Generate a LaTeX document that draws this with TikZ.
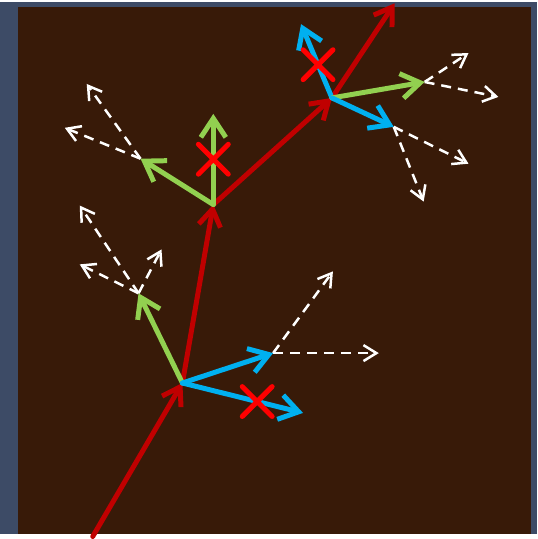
\documentclass[tikz,border=0pt]{standalone}
\usepackage{xcolor}
\usepackage{tikz}
\usetikzlibrary{arrows.meta, shapes.misc}
\definecolor{frameblue}{RGB}{61, 75, 102}
\definecolor{soilbrown}{RGB}{56, 26, 8}
\definecolor{trunkred}{RGB}{192, 0, 0}
\definecolor{leafgreen}{RGB}{146, 208, 80}
\definecolor{skyblue}{RGB}{0, 176, 240}
\definecolor{cutred}{RGB}{255, 0, 0}

\begin{document}
\begin{tikzpicture}[x=1pt, y=-1pt,
        trunk/.style={trunkred, line width=5pt, line cap=round, line join=round, -{Straight Barb[length=17pt, width=22pt]}},
        shoot/.style={line width=5pt, line cap=round, line join=round, -{Straight Barb[length=19pt, width=25pt]}},
        probe/.style={white, line width=2.5pt, dash pattern=on 10pt off 7pt, line join=round, -{Straight Barb[length=13pt, width=16pt]}},
        cut/.style={cross out, draw=cutred, line width=5pt, minimum size=25pt, inner sep=0pt}]

        % Background
        \fill[frameblue] (0, 0) rectangle (539, 533);
        \fill[soilbrown] (18, 5) rectangle (533, 533);

        % Forks of the trunk
        \coordinate (root) at (93, 536);
        \coordinate (a) at (183, 382);
        \coordinate (b) at (214, 203);
        \coordinate (c) at (333, 96);
        \coordinate (top) at (396, 1);

        % Shoots
        \coordinate (a1) at (139, 292);
        \coordinate (a2) at (274, 352);
        \coordinate (a3) at (304, 412);
        \coordinate (b1) at (214, 112);
        \coordinate (b2) at (141, 157);
        \coordinate (c1) at (302, 22);
        \coordinate (c2) at (426, 80);
        \coordinate (c3) at (395, 125);

        % Probes
        \coordinate (a1x) at (80, 204);
        \coordinate (a1y) at (80, 263);
        \coordinate (a1z) at (162, 248);
        \coordinate (a2x) at (334, 270);
        \coordinate (a2y) at (380, 352);
        \coordinate (b2x) at (87, 82);
        \coordinate (b2y) at (65, 126);
        \coordinate (c2x) at (470, 51);
        \coordinate (c2y) at (500, 95);
        \coordinate (c3x) at (470, 162);
        \coordinate (c3y) at (425, 200);

        % Dashed probes
        \draw[probe] (a1) -- (a1x);
        \draw[probe] (a1) -- (a1y);
        \draw[probe] (a1) -- (a1z);
        \draw[probe] (a2) -- (a2x);
        \draw[probe] (a2) -- (a2y);
        \draw[probe] (b2) -- (b2x);
        \draw[probe] (b2) -- (b2y);
        \draw[probe] (c2) -- (c2x);
        \draw[probe] (c2) -- (c2y);
        \draw[probe] (c3) -- (c3x);
        \draw[probe] (c3) -- (c3y);

        % Trunk
        \draw[trunk] (root) -- (a);
        \draw[trunk] (a) -- (b);
        \draw[trunk] (b) -- (c);
        \draw[trunk] (c) -- (top);

        % Shoots at a
        \draw[shoot, leafgreen] (a) -- (a1);
        \draw[shoot, skyblue] (a) -- (a2);
        \draw[shoot, skyblue] (a) -- node[cut, pos=0.62] (cutA) {} (a3); % Cut

        % Shoots at b
        \draw[shoot, leafgreen] (b) -- node[cut, pos=0.5] (cutB) {} (b1); % Cut
        \draw[shoot, leafgreen] (b) -- (b2);

        % Shoots at c
        \draw[shoot, skyblue] (c) -- node[cut, pos=0.45] (cutC) {} (c1); % Cut
        \draw[shoot, leafgreen] (c) -- (c2);
        \draw[shoot, skyblue] (c) -- (c3);

        \useasboundingbox (0, 0) rectangle (539, 533);
    \end{tikzpicture}
\end{document}
